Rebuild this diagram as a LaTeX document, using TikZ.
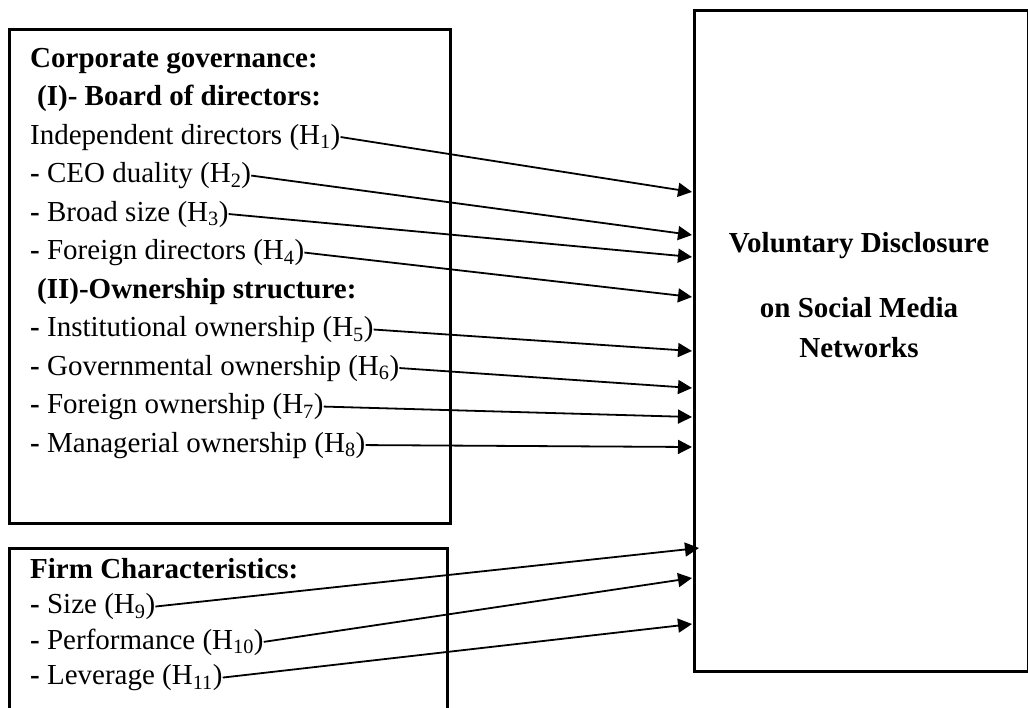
\documentclass[tikz,border=0pt]{standalone}
\usepackage{fontspec}
\setmainfont{Liberation Serif}
\usetikzlibrary{arrows.meta}
\begin{document}
\begin{tikzpicture}[x=1pt,y=-1pt,
  txt/.style={anchor=base west, inner sep=0pt, font=\fontsize{29}{35}\selectfont},
  btxt/.style={anchor=base west, inner sep=0pt, font=\fontsize{29}{35}\selectfont\bfseries},
  ctxt/.style={anchor=base, inner sep=0pt, font=\fontsize{29}{35}\selectfont\bfseries},
  boxnode/.style={draw, line width=3pt, anchor=north west, inner sep=0pt},
  arr/.style={line width=1.8pt, -{Triangle[length=14pt,width=14pt]}}]
\useasboundingbox (0,0) rectangle (1028,707);
\clip (0,0) rectangle (1028,707);
% boxes
\node[boxnode, minimum width=441pt, minimum height=494pt] (cg) at (8,28) {};
\node[boxnode, minimum width=438pt, minimum height=180pt] (fc) at (8,547) {};
\node[boxnode, minimum width=333.5pt, minimum height=661pt] (vd) at (693,9) {};
% left texts
\node[btxt] (c1) at (30,67) {Corporate governance:};
\node[btxt] (c2) at (37,105.5) {(I)- Board of directors:};
\node[txt] (h1) at (30,144) {Independent directors (H\textsubscript{1})};
\node[txt] (h2) at (30,182.5) {\textbf{-} CEO duality (H\textsubscript{2})};
\node[txt] (h3) at (30,221) {\textbf{-} Broad size (H\textsubscript{3})};
\node[txt] (h4) at (30,259.5) {\textbf{-} Foreign directors (H\textsubscript{4})};
\node[btxt] (c3) at (37,298) {(II)-Ownership structure:};
\node[txt] (h5) at (30,336.5) {\textbf{-} Institutional ownership (H\textsubscript{5})};
\node[txt] (h6) at (30,375) {\textbf{-} Governmental ownership (H\textsubscript{6})};
\node[txt] (h7) at (30,413.5) {\textbf{-} Foreign ownership (H\textsubscript{7})};
\node[txt] (h8) at (30,452) {\textbf{-} Managerial ownership (H\textsubscript{8})};
\node[btxt] (f0) at (30,578) {Firm Characteristics:};
\node[txt] (h9) at (30,613.5) {\textbf{-} Size (H\textsubscript{9})};
\node[txt] (h10) at (30,649) {\textbf{-} Performance (H\textsubscript{10})};
\node[txt] (h11) at (30,684.5) {\textbf{-} Leverage (H\textsubscript{11})};
% right texts
\node[ctxt] (v1) at (859,252) {Voluntary Disclosure};
\node[ctxt] (v2) at (859,317) {on Social Media};
\node[ctxt] (v3) at (859,357) {Networks};
% targets
\coordinate (t1) at (692,192);
\coordinate (t2) at (692,235);
\coordinate (t3) at (692,257);
\coordinate (t4) at (692,297);
\coordinate (t5) at (692,351);
\coordinate (t6) at (692,388);
\coordinate (t7) at (692,417);
\coordinate (t8) at (692,447);
\coordinate (t9) at (699,548);
\coordinate (t10) at (692,578);
\coordinate (t11) at (692,624);
% arrows
\draw[arr] (h1.east) -- (t1);
\draw[arr] (h2.east) -- (t2);
\draw[arr] (h3.east) -- (t3);
\draw[arr] (h4.east) -- (t4);
\draw[arr] (h5.east) -- (t5);
\draw[arr] (h6.east) -- (t6);
\draw[arr] (h7.east) -- (t7);
\draw[arr] (h8.east) -- (t8);
\draw[arr] (h9.east) -- (t9);
\draw[arr] (h10.east) -- (t10);
\draw[arr] (h11.east) -- (t11);
\end{tikzpicture}
\end{document}
